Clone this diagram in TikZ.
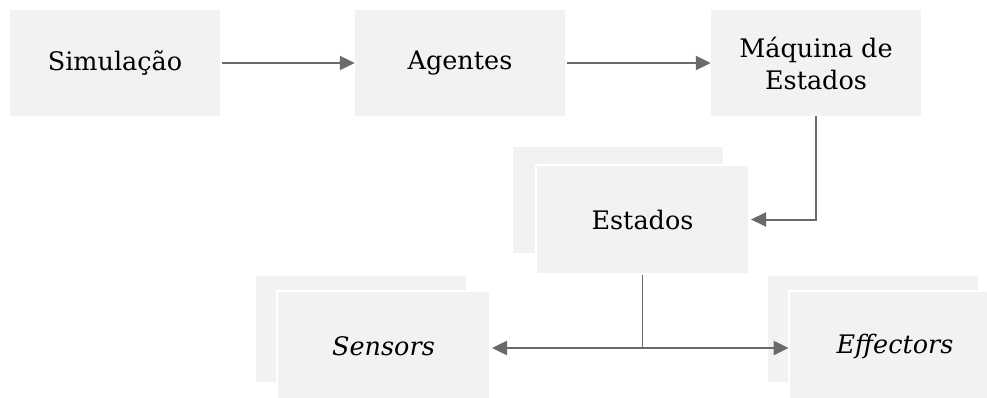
\documentclass[tikz,border=0pt]{standalone}
\usepackage{fontspec}
\setmainfont{DejaVu Serif}
\usetikzlibrary{arrows.meta}
\definecolor{boxfill}{HTML}{F2F2F2}
\definecolor{linegrey}{HTML}{6A6A6A}
\tikzset{
  box/.style={fill=boxfill, draw=none, minimum width=210pt, minimum height=106pt,
    inner sep=0pt, align=center, font=\fontsize{25.5}{32}\selectfont},
  frontbox/.style={box, draw=white, line width=2pt},
  flow/.style={draw=linegrey, line width=2pt, -{Triangle[length=15pt,width=14pt]}},
  link/.style={draw=linegrey, line width=1pt},
  both/.style={draw=linegrey, line width=2.5pt, {Triangle[length=15pt,width=14pt]}-{Triangle[length=15pt,width=14pt]}}
}
\begin{document}
\begin{tikzpicture}[x=1pt,y=-1pt]
  \useasboundingbox (0,0) rectangle (987,398);
  % top row
  \node[box] (sim) at (115,63) {Simulação};
  \node[box] (agt) at (460,63) {Agentes};
  \node[box] (maq) at (816,63) {Máquina de\\Estados};
  % stacked state boxes
  \node[box] (estB) at (618,200) {};
  \node[frontbox, minimum width=213pt, minimum height=109pt] (est) at (642.5,219.5) {Estados};
  % stacked sensor and effector boxes
  \node[box] (senB) at (361,328.5) {};
  \node[frontbox, minimum width=213pt, minimum height=110pt] (sen) at (383.5,346) {\itshape Sensors};
  \node[box] (effB) at (872.5,328.5) {};
  \node[frontbox, minimum width=213pt, minimum height=110pt] (eff) at (895,346) {\itshape Effectors};
  % connectors
  \draw[flow] ([xshift=2pt]sim.east) -- (agt.west);
  \draw[flow] ([xshift=2pt]agt.east) -- (maq.west);
  \draw[flow] (maq.south) |- ([xshift=1pt]est.east);
  \coordinate (split) at (est.south |- 0,348);
  \draw[link] (est.south) -- (split);
  \draw[both] ([xshift=1pt]sen.east |- split) -- ([xshift=1pt]eff.west |- split);
\end{tikzpicture}
\end{document}
